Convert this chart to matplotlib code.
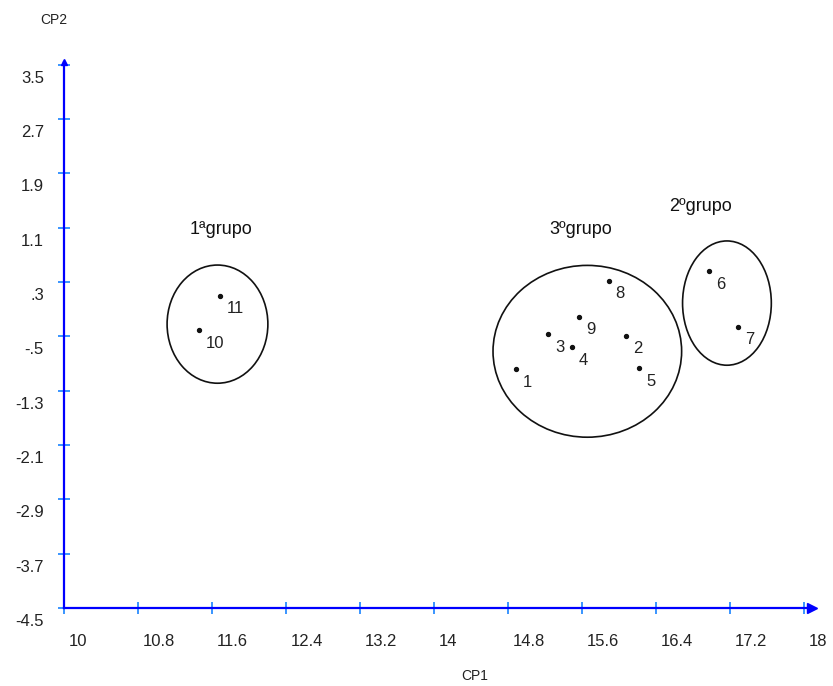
#!/usr/bin/env python3

import matplotlib.pyplot as plt
import matplotlib.transforms as mtransforms
from matplotlib.patches import Ellipse
import numpy as np

# ============================================================
# DATA
# ============================================================

point_ids = ["1", "2", "3", "4", "5", "6", "7", "8", "9", "10", "11"]
cp1 = [14.89, 16.08, 15.24, 15.49, 16.22, 16.98, 17.29, 15.89, 15.57, 11.46, 11.69]
cp2 = [-0.98, -0.49, -0.47, -0.66, -0.97, 0.46, -0.36, 0.32, -0.21, -0.41, 0.10]

# groups: label, centre (cp1, cp2), width, height, label position
group_names = ["1ªgrupo", "3ºgrupo", "2ºgrupo"]
group_cx = [11.66, 15.66, 17.17]
group_cy = [-0.32, -0.72, -0.01]
group_w = [1.09, 2.04, 0.96]
group_h = [1.74, 2.53, 1.83]
group_lx = [11.70, 15.59, 16.88]
group_ly = [1.08, 1.08, 1.41]

x_ticks = [10, 10.8, 11.6, 12.4, 13.2, 14, 14.8, 15.6, 16.4, 17.2, 18]
x_tick_labels = ["10", "10.8", "11.6", "12.4", "13.2", "14", "14.8", "15.6", "16.4", "17.2", "18"]
y_ticks = [-4.5, -3.7, -2.9, -2.1, -1.3, -0.5, 0.3, 1.1, 1.9, 2.7, 3.5]
y_tick_labels = ["-4.5", "-3.7", "-2.9", "-2.1", "-1.3", "-.5", ".3", "1.1", "1.9", "2.7", "3.5"]

# ============================================================
# PLOT SETUP
# ============================================================

plt.rcParams["font.family"] = ["Liberation Sans", "DejaVu Sans"]

W, H = 833, 686
fig = plt.figure(figsize=(W / 100, H / 100), dpi=100)
ax = fig.add_axes([64 / W, (H - 608) / H, 748 / W, 546 / H])

ax.set_xlim(10, 18.09)
ax.set_ylim(-4.5, 3.54)

axis_blue = "#0000ff"
tick_blue = "#2a8cff"
text_col = "#222222"

for side in ["top", "right"]:
    ax.spines[side].set_visible(False)
for side in ["left", "bottom"]:
    ax.spines[side].set_color(axis_blue)
    ax.spines[side].set_linewidth(1.6)

# arrow heads
ax.plot(1, 0, marker=">", color=axis_blue, markersize=7, transform=ax.transAxes, clip_on=False)
ax.plot(0, 1, marker="^", color=axis_blue, markersize=5, transform=ax.transAxes, clip_on=False)

ax.set_xticks(x_ticks)
ax.set_xticklabels(x_tick_labels)
ax.set_yticks(y_ticks)
ax.set_yticklabels(y_tick_labels)
ax.tick_params(axis="both", direction="inout", length=9, width=1.3, color=tick_blue,
               labelsize=12, labelcolor=text_col)
ax.tick_params(axis="x", pad=14)
ax.tick_params(axis="y", pad=10)

# shift tick labels like the original (x: left aligned, y: below tick)
for lab in ax.get_xticklabels():
    lab.set_ha("left")
    lab.set_transform(lab.get_transform() + mtransforms.ScaledTranslation(5 / 100, 0, fig.dpi_scale_trans))
for lab in ax.get_yticklabels():
    lab.set_transform(lab.get_transform() + mtransforms.ScaledTranslation(0, -12 / 100, fig.dpi_scale_trans))

fig.text(54 / W, 1 - 20 / H, "CP2", ha="center", va="center", fontsize=10, color=text_col)
fig.text(475 / W, 1 - 676 / H, "CP1", ha="center", va="center", fontsize=10, color=text_col)

# ============================================================
# POINTS
# ============================================================

ax.scatter(cp1, cp2, s=8, color="#111111", zorder=3)
for pid, xv, yv in zip(point_ids, cp1, cp2):
    ax.annotate(pid, (xv, yv), xytext=(5, -4), textcoords="offset points",
                ha="left", va="top", fontsize=12, color=text_col)

# ============================================================
# GROUPS
# ============================================================

for name, cx, cy, w, h, lx, ly in zip(group_names, group_cx, group_cy, group_w, group_h,
                                      group_lx, group_ly):
    ax.add_patch(Ellipse((cx, cy), w, h, fill=False, edgecolor="#111111", linewidth=1.2))
    ax.text(lx, ly, name, ha="center", va="center", fontsize=13, color="#111111")

fig.savefig("out.png", dpi=100)
